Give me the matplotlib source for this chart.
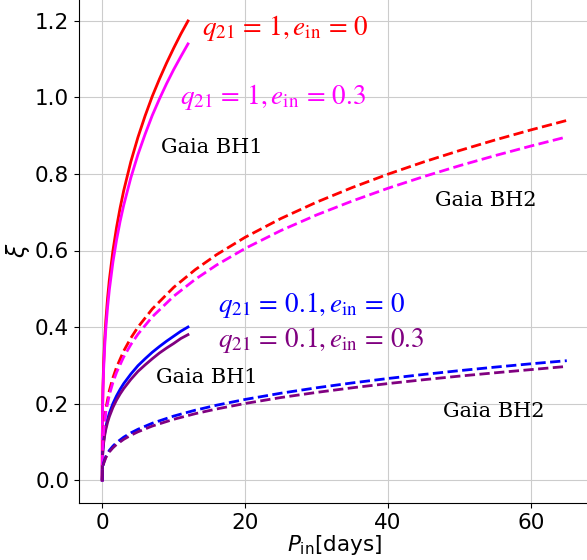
import matplotlib
matplotlib.use("Agg")
import matplotlib.pyplot as plt

# Gaia BH1 (solid), P_in in days
P_bh1 = [0, 0.01, 0.05, 0.1, 0.2, 0.35, 0.5, 0.75, 1, 1.5, 2, 2.5, 3, 4, 5, 6, 7, 8, 9, 10, 11, 12]
xi_q1_e0_bh1 = [0, 0.113, 0.193, 0.243, 0.307, 0.369, 0.416, 0.476, 0.524, 0.600, 0.660, 0.711,
                0.756, 0.832, 0.896, 0.952, 1.003, 1.048, 1.090, 1.129, 1.166, 1.200]
xi_q1_e03_bh1 = [0, 0.107, 0.183, 0.231, 0.291, 0.351, 0.395, 0.452, 0.498, 0.570, 0.627, 0.676,
                 0.718, 0.790, 0.851, 0.904, 0.953, 0.996, 1.036, 1.073, 1.107, 1.140]
xi_q01_e0_bh1 = [0, 0.038, 0.064, 0.081, 0.102, 0.123, 0.139, 0.159, 0.175, 0.200, 0.220, 0.237,
                 0.252, 0.277, 0.299, 0.317, 0.334, 0.349, 0.363, 0.376, 0.389, 0.400]
xi_q01_e03_bh1 = [0, 0.036, 0.061, 0.077, 0.097, 0.117, 0.132, 0.151, 0.166, 0.190, 0.209, 0.225,
                  0.239, 0.263, 0.284, 0.301, 0.317, 0.332, 0.345, 0.357, 0.370, 0.380]

# Gaia BH2 (dashed)
P_bh2 = [0, 0.05, 0.2, 0.5, 1, 1.5, 2, 3, 4, 5, 7, 10, 13, 16, 20, 25, 30, 35, 40, 45, 50, 55, 60, 65]
xi_q1_e0_bh2 = [0, 0.0861, 0.1367, 0.1856, 0.2338, 0.2676, 0.2946, 0.3372, 0.3711, 0.3998, 0.4472,
                0.5037, 0.5497, 0.5891, 0.6346, 0.6836, 0.7264, 0.7647, 0.7996, 0.8316, 0.8613,
                0.8891, 0.9153, 0.940]
xi_q1_e03_bh2 = [0, 0.0821, 0.1304, 0.1771, 0.2230, 0.2553, 0.2810, 0.3217, 0.3540, 0.3814, 0.4266,
                 0.4805, 0.5244, 0.5620, 0.6054, 0.6522, 0.6930, 0.7295, 0.7628, 0.7933, 0.8217,
                 0.8482, 0.8732, 0.897]
xi_q01_e0_bh2 = [0, 0.0286, 0.0454, 0.0616, 0.0776, 0.0888, 0.0978, 0.1120, 0.1232, 0.1327, 0.1485,
                 0.1672, 0.1825, 0.1956, 0.2107, 0.2270, 0.2412, 0.2539, 0.2655, 0.2761, 0.2860,
                 0.2952, 0.3039, 0.312]
xi_q01_e03_bh2 = [0, 0.0272, 0.0431, 0.0585, 0.0737, 0.0844, 0.0929, 0.1064, 0.1170, 0.1261, 0.1411,
                  0.1588, 0.1734, 0.1858, 0.2002, 0.2157, 0.2291, 0.2412, 0.2522, 0.2623, 0.2717,
                  0.2804, 0.2887, 0.297]

fig = plt.figure(figsize=(5.87, 5.6), dpi=100)
ax = fig.add_axes([79/587, 57/560, 511/587, 505/560])

lw = 2.0
ax.plot(P_bh1, xi_q1_e0_bh1, color='red', lw=lw)
ax.plot(P_bh1, xi_q1_e03_bh1, color='magenta', lw=lw)
ax.plot(P_bh1, xi_q01_e0_bh1, color='blue', lw=lw)
ax.plot(P_bh1, xi_q01_e03_bh1, color='purple', lw=lw)
ax.plot(P_bh2, xi_q1_e0_bh2, color='red', lw=lw, ls='--')
ax.plot(P_bh2, xi_q1_e03_bh2, color='magenta', lw=lw, ls='--')
ax.plot(P_bh2, xi_q01_e0_bh2, color='blue', lw=lw, ls='--')
ax.plot(P_bh2, xi_q01_e03_bh2, color='purple', lw=lw, ls='--')

fs_m = 19.5
mkw = dict(fontsize=fs_m, va='center', math_fontfamily='stix')
ax.text(14.0, 1.182, r'$q_{21}\,=\,1, e_{\rm in}\,=\,0$', color='red', **mkw)
ax.text(10.9, 1.00, r'$q_{21}\,=\,1, e_{\rm in}\,=\,0.3$', color='magenta', **mkw)
ax.text(16.2, 0.457, r'$q_{21}\,=\,0.1, e_{\rm in}\,=\,0$', color='blue', **mkw)
ax.text(16.2, 0.366, r'$q_{21}\,=\,0.1, e_{\rm in}\,=\,0.3$', color='purple', **mkw)

fs_t = 15
tkw = dict(fontsize=fs_t, va='center', family='DejaVu Serif', color='black')
ax.text(8.25, 0.87, 'Gaia BH1', **tkw)
ax.text(46.6, 0.73, 'Gaia BH2', **tkw)
ax.text(7.55, 0.267, 'Gaia BH1', **tkw)
ax.text(47.7, 0.178, 'Gaia BH2', **tkw)

ax.set_xlim(-3.25, 68.25)
ax.set_ylim(-0.06, 1.26)
ax.set_xticks([0, 20, 40, 60])
ax.set_yticks([0.0, 0.2, 0.4, 0.6, 0.8, 1.0, 1.2])
ax.tick_params(labelsize=15.5)
ax.grid(True, color='#cccccc', lw=0.8)
ax.set_xlabel(r'$P_{\rm in}$[days]', fontsize=15.5, labelpad=0)
ax.set_ylabel(r'$\xi$', fontsize=17, labelpad=2)

fig.savefig('out.png', dpi=100)
